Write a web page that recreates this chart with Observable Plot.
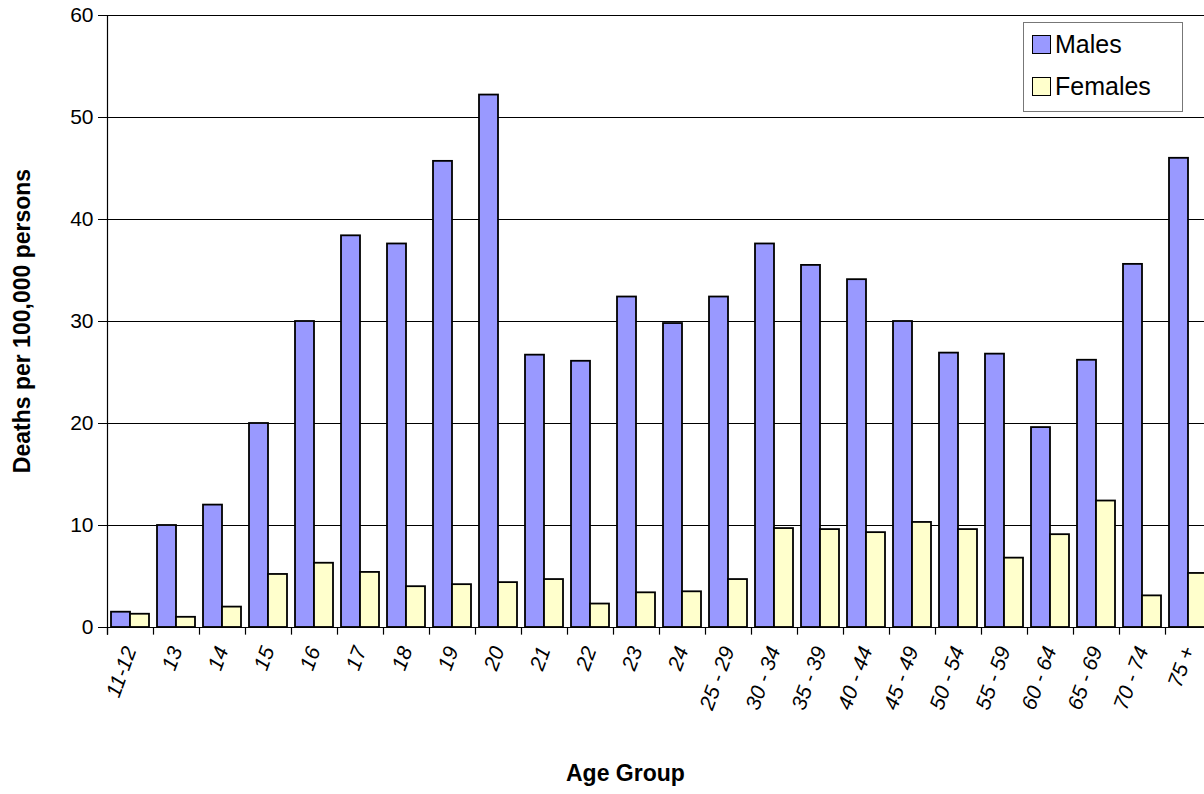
<!DOCTYPE html>
<html><head><meta charset="utf-8">
<script src="https://cdn.jsdelivr.net/npm/d3@7"></script>
<script src="https://cdn.jsdelivr.net/npm/@observablehq/plot@0.6"></script>
<style>
body{margin:0;overflow:hidden;background:#fff;font-family:"Liberation Sans",Arial,sans-serif}
#wrap{position:relative;width:1204px;height:794px}
.lab{position:absolute;font-weight:bold;font-size:23px}
#legend{position:absolute;left:1023px;top:22px;width:158px;height:88px;border:1px solid #777;background:#fff;font-size:25px}
#legend div{display:flex;align-items:center;height:42px;padding-left:8px}
#legend span{display:inline-block;width:17px;height:17px;border:1.5px solid #000;margin-right:4px}
</style></head><body>
<div id="wrap">
<div id="chart"></div>
<div class="lab" style="left:566px;top:760px">Age Group</div>
<div class="lab" style="left:22px;top:321px;transform:translate(-50%,-50%) rotate(-90deg);white-space:nowrap">Deaths per 100,000 persons</div>
<div id="legend"><div><span style="background:#9999ff"></span>Males</div><div><span style="background:#ffffcc"></span>Females</div></div>
</div>
<script>
const ages = ["11-12","13","14","15","16","17","18","19","20","21","22","23","24","25 - 29","30 - 34","35 - 39","40 - 44","45 - 49","50 - 54","55 - 59","60 - 64","65 - 69","70 - 74","75 +"];
const males = [1.5,10,12,20,30,38.4,37.6,45.7,52.2,26.7,26.1,32.4,29.8,32.4,37.6,35.5,34.1,30,26.9,26.8,19.6,26.2,35.6,46];
const females = [1.3,1.0,2.0,5.2,6.3,5.4,4.0,4.2,4.4,4.7,2.3,3.4,3.5,4.7,9.7,9.6,9.3,10.3,9.6,6.8,9.1,12.4,3.1,5.3];

const mRows = ages.map((a, i) => ({age: a, v: males[i]}));
const fRows = ages.map((a, i) => ({age: a, v: females[i]}));

document.getElementById("chart").appendChild(Plot.plot({
  width: 1204,
  height: 794,
  marginLeft: 105,
  marginRight: -8,
  marginTop: 15,
  marginBottom: 167,
  style: {fontFamily: "Liberation Sans, Arial, sans-serif", fontSize: "21px", color: "#000", overflow: "hidden"},
  x: {domain: ages, paddingInner: 0, paddingOuter: 0},
  y: {domain: [0, 60]},
  marks: [
    Plot.ruleY([0, 10, 20, 30, 40, 50, 60], {stroke: "#000", strokeWidth: 1.2}),
    Plot.barY(mRows, {x: "age", y: "v", fill: "#9999ff", stroke: "#000", strokeWidth: 1.8, insetLeft: 4, insetRight: 23}),
    Plot.barY(fRows, {x: "age", y: "v", fill: "#ffffcc", stroke: "#000", strokeWidth: 1.8, insetLeft: 23, insetRight: 4}),
    Plot.ruleX(ages, {x: d => d, dx: -23, y1: 0, y2: -0.75, stroke: "#000", strokeWidth: 1.2}),
    Plot.ruleX([ages[0]], {x: d => d, dx: -23, y1: -0.75, y2: 60, stroke: "#000", strokeWidth: 1.2}),
    Plot.axisY({ticks: [0, 10, 20, 30, 40, 50, 60], tickSize: 7, tickPadding: 5, label: null, fontSize: 21}),
    Plot.axisX({tickSize: 0, tickRotate: -70, tickPadding: 20, label: null, fontSize: 21, fontStyle: "italic"})
  ]
}));
</script>
</body></html>
